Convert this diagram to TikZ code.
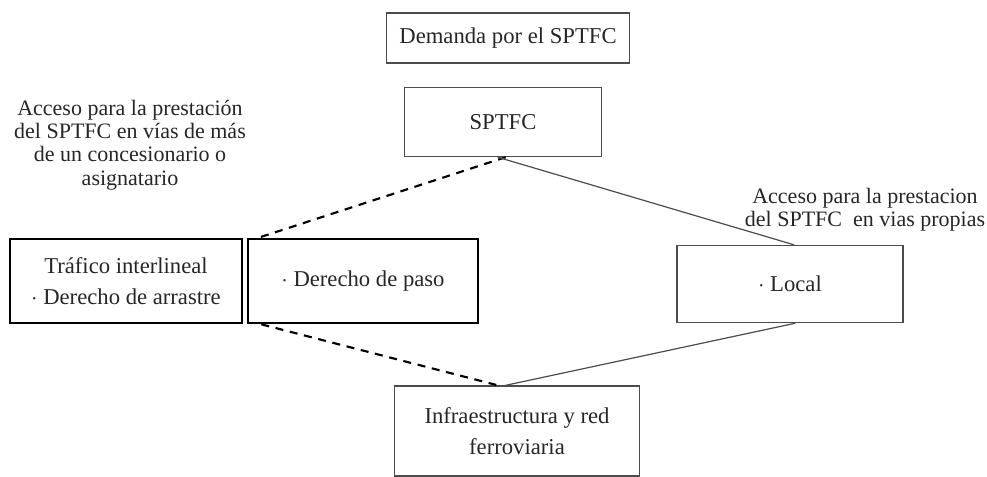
\documentclass[tikz,border=0pt]{standalone}
\usepackage{fontspec}
\setmainfont{Liberation Serif}
\usetikzlibrary{positioning}

\tikzset{
  thinbox/.style={draw=black!70, line width=0.8pt, rectangle, align=center,
    text=black!85, font=\fontsize{17}{23}\selectfont},
  thickbox/.style={draw=black, line width=2pt, rectangle, align=center,
    text=black!85, font=\fontsize{17}{23}\selectfont},
  note/.style={align=center, text=black!85, font=\fontsize{16.5}{17.5}\selectfont},
  dashlink/.style={line width=1.6pt, dash pattern=on 6pt off 5pt},
  thinlink/.style={draw=black!70, line width=0.9pt}
}

\begin{document}
\begin{tikzpicture}[x=0.75pt,y=-0.75pt]
\useasboundingbox (0,0) rectangle (987,477);

% Top of the chain
\node[thinbox, minimum width=182pt, minimum height=37.5pt] (demanda) at (508,38) {Demanda por el SPTFC};
\node[thinbox, minimum width=148pt, minimum height=52pt] (sptfc) at (503,122) {SPTFC};

% Access over several networks
\node[note] (accmulti) at (130,145) {Acceso para la prestación\\del SPTFC en vías de más\\de un concesionario o\\asignatario};
\node[thickbox, minimum width=174pt, minimum height=63pt] (interlineal) at (126,281) {Tráfico interlineal\\$\cdot$ Derecho de arrastre};
\node[thickbox, minimum width=172.5pt, minimum height=63pt] (paso) at (363,281) {$\cdot$ Derecho de paso};

% Access over own tracks
\node[note] (accpropia) at (865,210) {Acceso para la prestacion\\del SPTFC \ en vias propias};
\node[thinbox, minimum width=169.5pt, minimum height=58pt] (local) at (790,284) {$\cdot$ Local};

% Bottom of the chain
\node[thinbox, minimum width=184pt, minimum height=67.5pt] (infra) at (517,431) {Infraestructura y red\\ferroviaria};

% Links
\coordinate (jtop) at ([xshift=9pt]paso.north west);
\coordinate (jbot) at ([xshift=11pt]paso.south west);
\draw[dashlink] ([xshift=2pt]sptfc.south) -- (jtop);
\draw[thinlink] ([xshift=-4pt]sptfc.south) -- ([xshift=3pt]local.north);
\draw[dashlink] (jbot) -- ([xshift=-14pt]infra.north);
\draw[thinlink] ([xshift=4pt]local.south) -- ([xshift=-9pt]infra.north);

\end{tikzpicture}
\end{document}
